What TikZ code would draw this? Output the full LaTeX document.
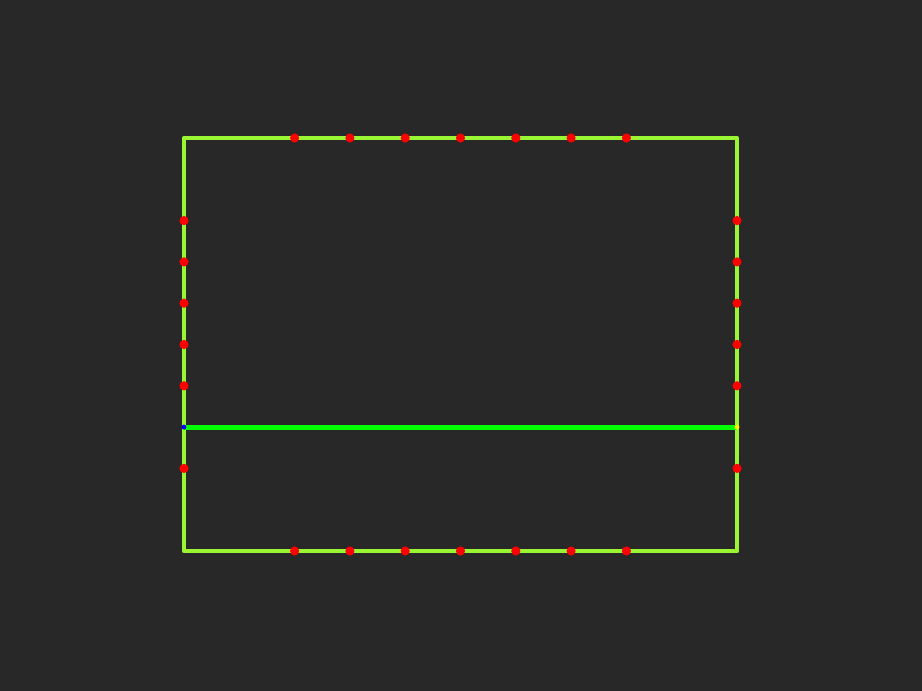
\documentclass[tikz,border=0pt]{standalone}
\usetikzlibrary{positioning,calc}

\definecolor{bgdark}{HTML}{282828}
\definecolor{framegreen}{HTML}{9AF533}
\definecolor{linegreen}{HTML}{00FF00}

\begin{document}
\begin{tikzpicture}[
    x=0.025cm, y=-0.025cm,
    frame/.style={draw=framegreen, line width=3.4pt, line join=round, line cap=round},
    split/.style={draw=linegreen, line width=3.6pt},
    pin/.style={circle, fill=red, inner sep=0pt, minimum size=6.5pt},
    endpin/.style={circle, inner sep=0pt, minimum size=3.5pt},
]

% background and bounds
\fill[bgdark] (0,0) rectangle (922,691);
\useasboundingbox (0,0) rectangle (922,691);

% frame corners
\coordinate (tl) at (184,138);
\coordinate (tr) at (737,138);
\coordinate (br) at (737,551);
\coordinate (bl) at (184,551);

\draw[frame] (tl) -- (tr) -- (br) -- (bl) -- cycle;

% split line
\coordinate (sl) at ($(tl)!0.7!(bl)$);
\coordinate (sr) at ($(tr)!0.7!(br)$);
\draw[split] (sl) -- (sr);
\node[endpin, fill=blue] (slpin) at (sl) {};
\node[endpin, fill=yellow] (srpin) at (sr) {};

% pins along top and bottom
\foreach \f [count=\i] in {0.2,0.3,0.4,0.5,0.6,0.7,0.8} {
  \node[pin] (top\i) at ($(tl)!\f!(tr)$) {};
  \node[pin] (bot\i) at ($(bl)!\f!(br)$) {};
}

% pins along left and right
\foreach \f [count=\i] in {0.2,0.3,0.4,0.5,0.6,0.8} {
  \node[pin] (lft\i) at ($(tl)!\f!(bl)$) {};
  \node[pin] (rgt\i) at ($(tr)!\f!(br)$) {};
}

\end{tikzpicture}
\end{document}
